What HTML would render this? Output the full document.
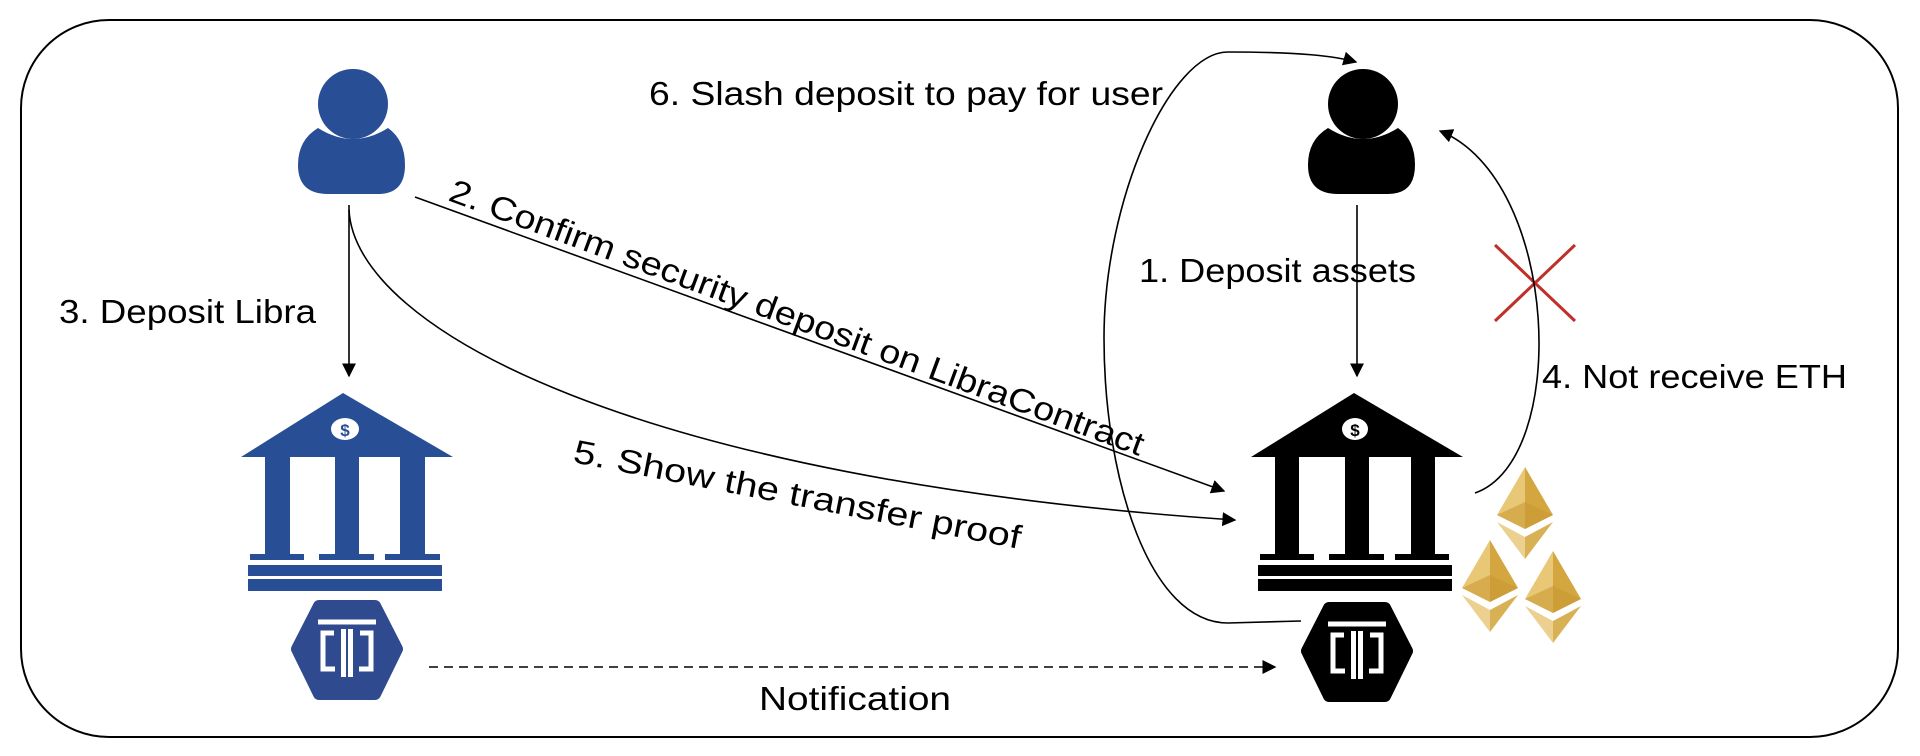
<!DOCTYPE html>
<html><head><meta charset="utf-8"><style>
html,body{margin:0;padding:0;background:#fff;}
svg{display:block;}
text{font-family:"Liberation Sans",sans-serif;font-size:33px;fill:#000;}
</style></head><body>
<svg width="1920" height="756" viewBox="0 0 1920 756" xmlns="http://www.w3.org/2000/svg">
<defs>
<marker id="ah2" viewBox="0 0 10 10" refX="9" refY="5" markerWidth="14" markerHeight="14" markerUnits="userSpaceOnUse" orient="auto"><path d="M0,0 L10,5 L0,10 z" fill="#000"/></marker>
<g id="hex">
<polygon points="-28,-43 28,-43 50,0 28,45 -28,45 -50,0" stroke-linejoin="round" stroke-width="12"/>
<g stroke="#fff" stroke-width="5" fill="none">
<line x1="-29" y1="-27" x2="29" y2="-27"/>
<line x1="-3.5" y1="-20" x2="-3.5" y2="28"/>
<line x1="3.5" y1="-20" x2="3.5" y2="28"/>
<path d="M-13,-16 H-24 V20 H-12"/>
<path d="M13,-16 H24 V20 H12"/>
</g>
</g>
<g id="eth">
<polygon points="0,0 -28,48 0,62" fill="#e8c877"/>
<polygon points="0,0 28,48 0,62" fill="#d3a640"/>
<polygon points="-28,48 0,62 28,48 0,35" fill="#c99a33" opacity="0.6"/>
<polygon points="-28,55 0,70 0,92" fill="#ecd090"/>
<polygon points="28,55 0,70 0,92" fill="#d9b155"/>
</g>
</defs>
<rect x="21" y="20" width="1877" height="717" rx="88" ry="88" fill="none" stroke="#000" stroke-width="2"/>

<!-- left user -->
<g fill="#284e95">
<ellipse cx="353" cy="104" rx="35" ry="35"/>
<path d="M318,128 Q353,150 388,128 Q405,140 405,165 Q405,194 378,194 L328,194 Q298,194 298,165 Q298,140 318,128 z"/>
</g>
<!-- right user -->
<g fill="#000">
<ellipse cx="1363" cy="104" rx="35" ry="35"/>
<path d="M1328,128 Q1363,150 1398,128 Q1415,140 1415,165 Q1415,194 1388,194 L1338,194 Q1308,194 1308,165 Q1308,140 1328,128 z"/>
</g>

<!-- left bank -->
<g fill="#284e95">
<polygon points="343,393 241,457 453,457"/>
<rect x="265" y="457" width="25" height="97"/>
<rect x="335" y="457" width="24" height="97"/>
<rect x="400" y="457" width="25" height="97"/>
<rect x="250" y="554" width="54" height="6"/>
<rect x="319" y="554" width="55" height="6"/>
<rect x="385" y="554" width="55" height="6"/>
<rect x="248" y="565" width="194" height="11"/>
<rect x="248" y="579" width="194" height="12"/>
</g>
<ellipse cx="345" cy="429" rx="14" ry="11" fill="#fff"/>
<text x="345" y="436" text-anchor="middle" style="font-size:17px;font-weight:bold;fill:#284e95">$</text>

<!-- right bank -->
<g fill="#000">
<polygon points="1354,393 1251,457 1463,457"/>
<rect x="1275" y="457" width="24" height="97"/>
<rect x="1345" y="457" width="24" height="97"/>
<rect x="1411" y="457" width="24" height="97"/>
<rect x="1260" y="554" width="54" height="6"/>
<rect x="1329" y="554" width="55" height="6"/>
<rect x="1395" y="554" width="54" height="6"/>
<rect x="1258" y="565" width="194" height="11"/>
<rect x="1258" y="579" width="194" height="12"/>
</g>
<ellipse cx="1355" cy="429" rx="13" ry="11" fill="#fff"/>
<text x="1355" y="436" text-anchor="middle" style="font-size:17px;font-weight:bold;fill:#000">$</text>

<!-- hex logos -->
<use href="#hex" x="347" y="649" fill="#2f4a8f" stroke="#2f4a8f"/>
<use href="#hex" x="1357" y="651" fill="#000" stroke="#000"/>

<!-- eth -->
<use href="#eth" x="1525" y="467"/>
<use href="#eth" x="1490" y="540"/>
<use href="#eth" x="1553" y="551"/>

<!-- red X -->
<g stroke="#c0302a" stroke-width="3">
<line x1="1495" y1="245" x2="1575" y2="321"/>
<line x1="1575" y1="245" x2="1495" y2="321"/>
</g>

<!-- connectors -->
<g fill="none" stroke="#000" stroke-width="1.6">
<line x1="349" y1="205" x2="349" y2="376" marker-end="url(#ah2)"/>
<line x1="1357" y1="205" x2="1357" y2="376" marker-end="url(#ah2)"/>
<line x1="415" y1="197" x2="1224" y2="491" marker-end="url(#ah2)"/>
<path d="M349,210 C355,330 640,480 1235,520" marker-end="url(#ah2)"/>
<path d="M1475,493 C1570,460 1560,180 1440,131" marker-end="url(#ah2)"/>
<path d="M1301,621 L1228,623 C1150,623 1104,480 1104,338 C1104,200 1170,52 1228,52 C1300,52 1335,56 1356,62" marker-end="url(#ah2)"/>
<line x1="429" y1="667" x2="1275" y2="667" stroke-dasharray="9,6" marker-end="url(#ah2)"/>
</g>

<!-- labels -->
<text x="59" y="323" textLength="257" lengthAdjust="spacingAndGlyphs">3. Deposit Libra</text>
<text x="649" y="105" textLength="514" lengthAdjust="spacingAndGlyphs">6. Slash deposit to pay for user</text>
<text x="1139" y="282" textLength="277" lengthAdjust="spacingAndGlyphs">1. Deposit assets</text>
<text x="1542" y="388" textLength="305" lengthAdjust="spacingAndGlyphs">4. Not receive ETH</text>
<text x="759" y="710" textLength="192" lengthAdjust="spacingAndGlyphs">Notification</text>
<text transform="translate(447,200) rotate(20.3)" textLength="738" lengthAdjust="spacingAndGlyphs">2. Confirm security deposit on LibraContract</text>
<text transform="translate(572,462) rotate(11)" textLength="455" lengthAdjust="spacingAndGlyphs">5. Show the transfer proof</text>
</svg>
</body></html>
